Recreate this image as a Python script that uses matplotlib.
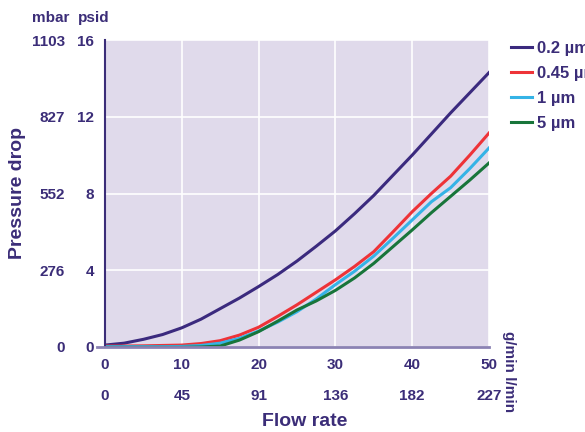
import matplotlib
matplotlib.use('Agg')
import matplotlib.pyplot as plt

plt.rcParams['font.family'] = ['Liberation Sans', 'DejaVu Sans']
plt.rcParams['font.weight'] = 'bold'

# flow rate (g/min) and pressure drop (psid)
flow = [0, 2.5, 5, 7.5, 10, 12.5, 15, 17.5, 20, 22.5, 25, 27.5, 30,
        32.5, 35, 37.5, 40, 42.5, 45, 47.5, 50]
dp_02 = [0.1, 0.2, 0.4, 0.65, 1.0, 1.45, 2.0, 2.55, 3.15, 3.78, 4.48, 5.25, 6.05,
         6.95, 7.9, 8.95, 10.0, 11.1, 12.2, 13.25, 14.3]
dp_045 = [0.05, 0.05, 0.06, 0.08, 0.1, 0.18, 0.33, 0.62, 1.03, 1.6, 2.2, 2.85, 3.5,
          4.2, 4.97, 6.0, 7.05, 8.0, 8.9, 10.0, 11.15]
dp_1 = [0.02, 0.02, 0.02, 0.02, 0.03, 0.08, 0.2, 0.45, 0.83, 1.3, 1.84, 2.5, 3.25,
        3.95, 4.74, 5.67, 6.62, 7.57, 8.3, 9.3, 10.37]
dp_5 = [-0.02, -0.02, -0.02, -0.02, -0.02, 0.0, 0.05, 0.36, 0.8, 1.35, 1.93, 2.4, 2.95,
        3.6, 4.36, 5.23, 6.1, 7.0, 7.85, 8.7, 9.59]

labels = ['0.2 µm', '0.45 µm', '1 µm', '5 µm']
colors = ['#3b2a7e', '#ee3338', '#35b3e6', '#18753a']

psid_ticks = [0, 4, 8, 12, 16]
mbar_labels = ['0', '276', '552', '827', '1103']
gmin_ticks = [0, 10, 20, 30, 40, 50]
lmin_labels = ['0', '45', '91', '136', '182', '227']

txt = '#3b2d78'
bg = '#e0daeb'

fig = plt.figure(figsize=(5.85, 4.32), dpi=100)
ax = fig.add_axes([105/585, 1-347/432, 384/585, 307/432])
ax.set_facecolor(bg)

for y, lab, c in zip([dp_02, dp_045, dp_1, dp_5], labels, colors):
    ax.plot(flow, y, color=c, lw=2.2, label=lab, solid_joinstyle='round')

ax.set_xlim(0, 50)
ax.set_ylim(0, 16)
ax.set_xticks(gmin_ticks)
ax.set_yticks(psid_ticks)
ax.grid(color='white', lw=1.2)
ax.set_axisbelow(True)
for s in ['top', 'right']:
    ax.spines[s].set_visible(False)
ax.spines['left'].set_color(txt)
ax.spines['left'].set_linewidth(1.5)
ax.spines['bottom'].set_color('#8b82b3')
ax.spines['bottom'].set_linewidth(2)
ax.spines['bottom'].set_bounds(-1.1, 50)
ax.tick_params(length=0, labelsize=11, labelcolor=txt, pad=8)
for t in ax.get_xticklabels() + ax.get_yticklabels():
    t.set_fontweight('bold')

# second scales: mbar on the left, l/min at the bottom
sy = ax.secondary_yaxis(-0.105)
sy.set_yticks(psid_ticks, labels=mbar_labels)
sy.spines['left'].set_visible(False)
sy.tick_params(length=0, labelsize=11, labelcolor=txt, pad=0)
sx = ax.secondary_xaxis(-0.1)
sx.set_xticks(gmin_ticks, labels=lmin_labels)
sx.spines['bottom'].set_visible(False)
sx.tick_params(length=0, labelsize=11, labelcolor=txt, pad=8)
for t in sy.get_yticklabels() + sx.get_xticklabels():
    t.set_fontweight('bold')

fig.text(51/585, 1-18/432, 'mbar', color=txt, fontsize=11, fontweight='bold', ha='center', va='center')
fig.text(94/585, 1-18/432, 'psid', color=txt, fontsize=11, fontweight='bold', ha='center', va='center')
fig.text(18/585, 1-193/432, 'Pressure drop', color=txt, fontsize=14, fontweight='bold',
         rotation=90, ha='center', va='center')
fig.text(305/585, 1-422/432, 'Flow rate', color=txt, fontsize=14, fontweight='bold', ha='center', va='center')
fig.text(509/585, 1-372/432, 'g/min l/min', color=txt, fontsize=11, fontweight='bold',
         rotation=270, ha='center', va='center')

leg = ax.legend(loc='upper left', bbox_to_anchor=(1.017, 1.045), frameon=False,
                handlelength=1.3, handletextpad=0.3, labelspacing=0.6,
                prop={'size': 12, 'weight': 'bold'})
for t in leg.get_texts():
    t.set_color(txt)

fig.savefig('out.png', dpi=100)
